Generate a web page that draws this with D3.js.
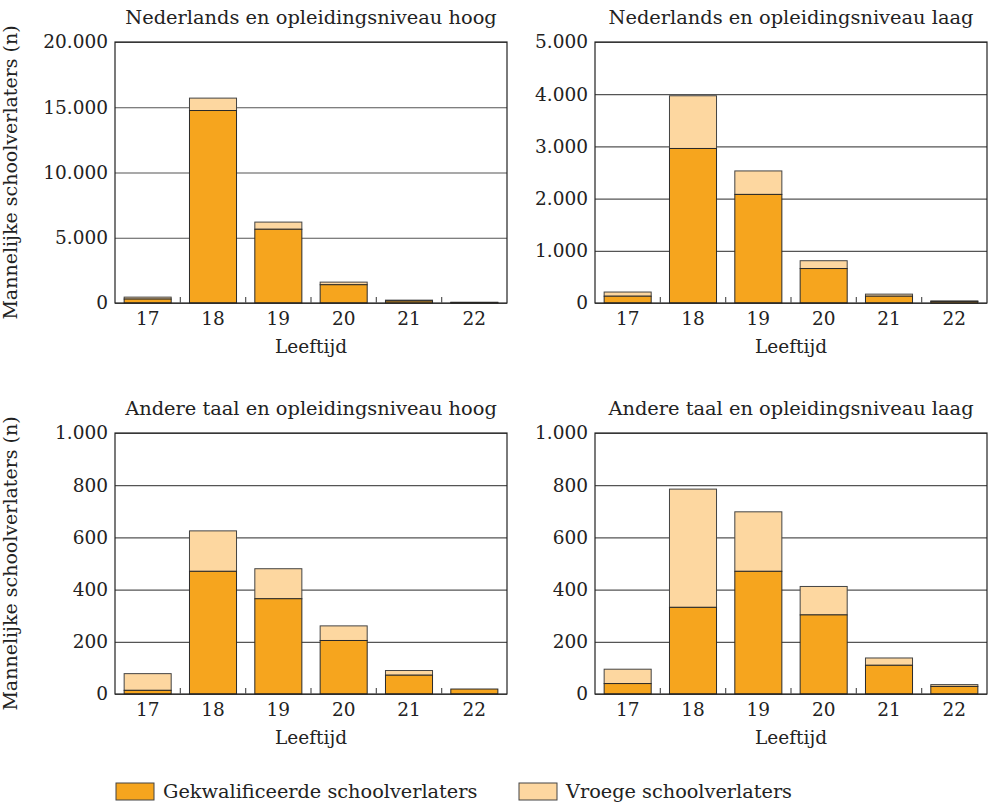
<!DOCTYPE html>
<html>
<head>
<meta charset="utf-8">
<script src="https://cdn.jsdelivr.net/npm/d3@7"></script>
<style>
  body { margin: 0; background: #fff; }
  text { font-family: "DejaVu Serif", serif; fill: #222; }
</style>
</head>
<body>
<div id="chart"></div>
<script>
// ---- DATA ----------------------------------------------------------
var ages = ["17", "18", "19", "20", "21", "22"];

var titles = [
  "Nederlands en opleidingsniveau hoog",
  "Nederlands en opleidingsniveau laag",
  "Andere taal en opleidingsniveau hoog",
  "Andere taal en opleidingsniveau laag"
];

// gekwalificeerde schoolverlaters (onderste deel)
var gekwNlHoog = [300, 14750, 5650, 1400, 150, 30];
var gekwNlLaag = [130, 2960, 2080, 660, 130, 30];
var gekwAnHoog = [14, 470, 365, 205, 72, 19];
var gekwAnLaag = [40, 332, 470, 303, 110, 29];

// vroege schoolverlaters (bovenop)
var vroegNlHoog = [150, 950, 550, 200, 70, 30];
var vroegNlLaag = [80, 1010, 450, 150, 40, 10];
var vroegAnHoog = [64, 155, 115, 56, 18, 0];
var vroegAnLaag = [55, 453, 228, 109, 28, 7];

var ticksNlHoog = [0, 5000, 10000, 15000, 20000];
var ticksNlLaag = [0, 1000, 2000, 3000, 4000, 5000];
var ticksAnder = [0, 200, 400, 600, 800, 1000];

var legendLabels = ["Gekwalificeerde schoolverlaters", "Vroege schoolverlaters"];
var yLabel = "Mannelijke schoolverlaters (n)";
var xLabel = "Leeftijd";

// ---- VARIABLES -----------------------------------------------------
var w = 991;
var h = 804;
var colGekw = "#f6a51e";
var colVroeg = "#fdd7a0";

var nlFormat = d3.formatLocale({
  decimal: ",", thousands: ".", grouping: [3], currency: ["€", ""]
}).format(",d");

var panels = [
  { title: titles[0], gekw: gekwNlHoog, vroeg: vroegNlHoog, ticks: ticksNlHoog, x0: 115, y0: 42 },
  { title: titles[1], gekw: gekwNlLaag, vroeg: vroegNlLaag, ticks: ticksNlLaag, x0: 595, y0: 42 },
  { title: titles[2], gekw: gekwAnHoog, vroeg: vroegAnHoog, ticks: ticksAnder, x0: 115, y0: 433 },
  { title: titles[3], gekw: gekwAnLaag, vroeg: vroegAnLaag, ticks: ticksAnder, x0: 595, y0: 433 }
];
var pw = 392;
var ph = 261;

var svg = d3.select("#chart")
  .append("svg")
  .attr("width", w)
  .attr("height", h);

panels.forEach(function(p, idx) {
  var g = svg.append("g")
    .attr("transform", "translate(" + p.x0 + "," + p.y0 + ")");

  var xScale = d3.scaleBand()
    .domain(ages)
    .range([0, pw])
    .paddingInner(0.28)
    .paddingOuter(0.14);

  var yScale = d3.scaleLinear()
    .domain([0, d3.max(p.ticks)])
    .range([ph, 0]);

  // gridlines + tick labels
  var yAxis = d3.axisLeft(yScale)
    .tickValues(p.ticks)
    .tickSize(-pw)
    .tickPadding(7)
    .tickFormat(nlFormat);

  var ya = g.append("g").call(yAxis);
  ya.select(".domain").remove();
  ya.selectAll(".tick line").attr("stroke", "#555").attr("stroke-width", 1.2);
  ya.selectAll(".tick text")
    .attr("font-size", "18.5px")
    .attr("font-family", "DejaVu Serif")
    .attr("fill", "#222");

  // stacked bars
  var stack = ages.map(function(a, i) {
    return { age: a, gekw: p.gekw[i], vroeg: p.vroeg[i] };
  });

  g.selectAll(".vroeg")
    .data(stack)
    .enter()
    .append("rect")
    .attr("x", function(d) { return xScale(d.age); })
    .attr("width", xScale.bandwidth())
    .attr("y", function(d) { return yScale(d.gekw + d.vroeg); })
    .attr("height", function(d) { return yScale(d.gekw) - yScale(d.gekw + d.vroeg); })
    .attr("fill", colVroeg)
    .attr("stroke", "#444")
    .attr("stroke-width", 1);

  g.selectAll(".gekw")
    .data(stack)
    .enter()
    .append("rect")
    .attr("x", function(d) { return xScale(d.age); })
    .attr("width", xScale.bandwidth())
    .attr("y", function(d) { return yScale(d.gekw); })
    .attr("height", function(d) { return ph - yScale(d.gekw); })
    .attr("fill", colGekw)
    .attr("stroke", "#2a2a2a")
    .attr("stroke-width", 1);

  // frame
  g.append("rect")
    .attr("width", pw)
    .attr("height", ph)
    .attr("fill", "none")
    .attr("stroke", "#222")
    .attr("stroke-width", 1.2);

  // small separators on the baseline
  var step = xScale.step();
  g.selectAll(".sep")
    .data(ages.slice(1))
    .enter()
    .append("line")
    .attr("x1", function(d) { return xScale(d) - step * 0.14; })
    .attr("x2", function(d) { return xScale(d) - step * 0.14; })
    .attr("y1", ph)
    .attr("y2", ph - 6)
    .attr("stroke", "#555")
    .attr("stroke-width", 1.2);

  // x tick labels
  g.selectAll(".xlab")
    .data(ages)
    .enter()
    .append("text")
    .attr("x", function(d) { return xScale(d) + xScale.bandwidth() / 2; })
    .attr("y", ph + 22)
    .attr("text-anchor", "middle")
    .attr("font-size", "18.5px")
    .text(function(d) { return d; });

  g.append("text")
    .attr("x", pw / 2)
    .attr("y", ph + 50)
    .attr("text-anchor", "middle")
    .attr("font-size", "18.5px")
    .text(xLabel);

  g.append("text")
    .attr("x", pw / 2)
    .attr("y", -18)
    .attr("text-anchor", "middle")
    .attr("font-size", "19.4px")
    .text(p.title);

  if (idx % 2 === 0) {
    g.append("text")
      .attr("transform", "translate(" + (-98) + "," + (ph / 2) + ") rotate(-90)")
      .attr("text-anchor", "middle")
      .attr("font-size", "19px")
      .text(yLabel);
  }
});

// legend
var legend = svg.append("g").attr("transform", "translate(116,783)");
var legendX = [0, 403];
legendLabels.forEach(function(l, i) {
  legend.append("rect")
    .attr("x", legendX[i])
    .attr("y", 0)
    .attr("width", 38)
    .attr("height", 17)
    .attr("fill", i === 0 ? colGekw : colVroeg)
    .attr("stroke", "#444");
  legend.append("text")
    .attr("x", legendX[i] + 47)
    .attr("y", 15)
    .attr("font-size", "19.3px")
    .text(l);
});
</script>
</body>
</html>
